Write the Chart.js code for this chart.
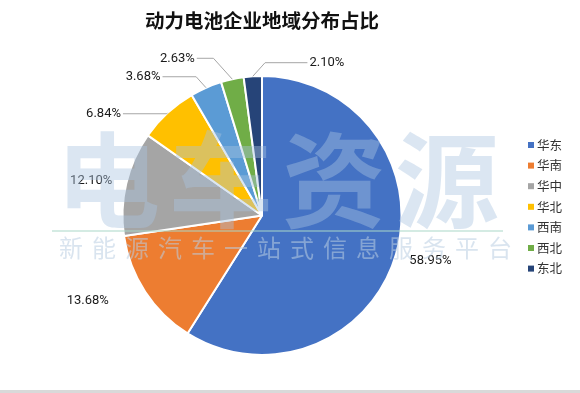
<!DOCTYPE html>
<html>
<head>
<meta charset="utf-8">
<script src="https://cdn.jsdelivr.net/npm/chart.js@4.4.0/dist/chart.umd.min.js"></script>
<style>
    html, body { margin: 0; padding: 0; background: #fff; }
    #wrap { position: relative; width: 580px; height: 393px; }
</style>
</head>
<body>
<div id="wrap"><canvas id="regionChart" width="580" height="393"></canvas></div>
<script>
const regions = ['华东', '华南', '华中', '华北', '西南', '西北', '东北'];
const shares = [58.95, 13.68, 12.10, 6.84, 3.68, 2.63, 2.10];
const sliceColors = ['#4472C4', '#ED7D31', '#A5A5A5', '#FFC000', '#5B9BD5', '#70AD47', '#264478'];

// where each percentage label sits: angle from 12 o'clock (deg) and distance in radii
const labelAngles = [105, 244, 281.6, 302.7, 319.4, 331.7, 23];
const labelDist = [1.25, 1.39, 1.25, 1.35, 1.31, 1.28, 1.19];
const labelLeader = [false, false, false, true, true, true, true];

const labelFont = '13px Roboto, "Noto Sans CJK SC", sans-serif';
const cjkFont = '"Noto Sans CJK SC", sans-serif';

// white page + grey strip at the bottom
const backgroundPlugin = {
    id: 'background',
    beforeDraw(chart) {
        const ctx = chart.ctx;
        ctx.save();
        ctx.fillStyle = '#ffffff';
        ctx.fillRect(0, 0, chart.width, chart.height);
        ctx.fillStyle = '#d9d9d9';
        ctx.fillRect(0, chart.height - 3, chart.width, 3);
        ctx.restore();
    }
};

// percentage labels, with leader lines for the small slices
const sliceLabelPlugin = {
    id: 'sliceLabels',
    afterDatasetsDraw(chart) {
        const ctx = chart.ctx;
        const meta = chart.getDatasetMeta(0);
        ctx.save();
        ctx.font = labelFont;
        ctx.textAlign = 'center';
        ctx.textBaseline = 'middle';
        meta.data.forEach((arc, i) => {
            const p = arc.getProps(['x', 'y', 'outerRadius', 'startAngle', 'endAngle'], true);
            const a = labelAngles[i] * Math.PI / 180;
            const lx = p.x + Math.sin(a) * p.outerRadius * labelDist[i];
            const ly = p.y - Math.cos(a) * p.outerRadius * labelDist[i];
            const text = shares[i].toFixed(2) + '%';
            const w = ctx.measureText(text).width;

            if (labelLeader[i]) {
                const mid = (p.startAngle + p.endAngle) / 2;
                const ex = p.x + Math.cos(mid) * p.outerRadius;
                const ey = p.y + Math.sin(mid) * p.outerRadius;
                const side = lx < ex ? lx + w / 2 + 2 : lx - w / 2 - 2;
                const dir = Math.sign(side - ex);
                const elbowX = ex + dir * Math.min(Math.abs(ly - ey) * 0.9, Math.abs(side - ex));
                ctx.strokeStyle = '#a6a6a6';
                ctx.lineWidth = 1;
                ctx.beginPath();
                ctx.moveTo(ex, ey);
                ctx.lineTo(elbowX, ly);
                ctx.lineTo(side, ly);
                ctx.stroke();
            }
            ctx.fillStyle = '#1a1a1a';
            ctx.fillText(text, lx, ly);
        });
        ctx.restore();
    }
};

// faint watermark over the plot, then the legend on the right
const overlayPlugin = {
    id: 'overlay',
    afterDraw(chart) {
        const ctx = chart.ctx;
        ctx.save();
        ctx.textAlign = 'center';
        ctx.textBaseline = 'middle';
        ctx.font = 'bold 104px ' + cjkFont;
        ctx.fillStyle = 'rgba(170, 195, 225, 0.42)';
        const big = ['电', '车', '资', '源'];
        big.forEach((c, i) => ctx.fillText(c, 108 + i * 113, 180));
        ctx.fillStyle = 'rgba(170, 215, 200, 0.5)';
        ctx.fillRect(52, 230, 451, 2);
        ctx.font = '24px ' + cjkFont;
        ctx.fillStyle = 'rgba(185, 205, 225, 0.55)';
        const sub = '新能源汽车一站式信息服务平台';
        for (let i = 0; i < sub.length; i++) {
            ctx.fillText(sub[i], 71 + i * 33, 248);
        }

        // legend
        ctx.textAlign = 'left';
        ctx.font = '12.5px ' + cjkFont;
        regions.forEach((name, i) => {
            const y = 145 + i * 20.6;
            ctx.fillStyle = sliceColors[i];
            ctx.fillRect(528, y - 3, 6, 6);
            ctx.fillStyle = '#333333';
            ctx.fillText(name, 537, y);
        });
        ctx.restore();
    }
};

const ctx = document.getElementById('regionChart').getContext('2d');
const regionChart = new Chart(ctx, {
    type: 'pie',
    data: {
        labels: regions,
        datasets: [{
            data: shares,
            backgroundColor: sliceColors,
            borderColor: '#ffffff',
            borderWidth: 2
        }]
    },
    options: {
        responsive: false,
        animation: false,
        layout: {
            padding: { left: 121, right: 177, top: 0, bottom: 37 }
        },
        plugins: {
            legend: { display: false },
            tooltip: { enabled: false },
            title: {
                display: true,
                text: '动力电池企业地域分布占比',
                color: '#111111',
                font: { family: '"Noto Sans CJK SC", sans-serif', size: 19.5, weight: 'bold' },
                padding: { top: 9, bottom: 42.6 }
            }
        }
    },
    plugins: [backgroundPlugin, sliceLabelPlugin, overlayPlugin]
});
</script>
</body>
</html>
